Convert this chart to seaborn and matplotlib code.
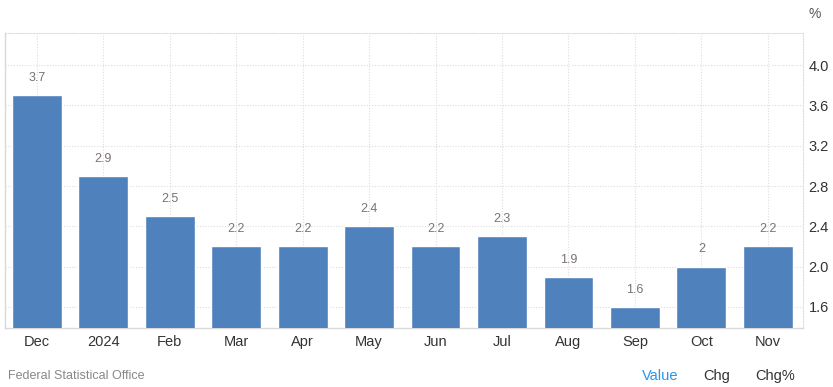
import pandas as pd
import matplotlib
matplotlib.use("Agg")
import matplotlib.pyplot as plt
import seaborn as sns

# Données
months = ["Dec", "2024", "Feb", "Mar", "Apr", "May", "Jun", "Jul", "Aug", "Sep", "Oct", "Nov"]
values = [3.7, 2.9, 2.5, 2.2, 2.2, 2.4, 2.2, 2.3, 1.9, 1.6, 2.0, 2.2]
labels = ["3.7", "2.9", "2.5", "2.2", "2.2", "2.4", "2.2", "2.3", "1.9", "1.6", "2", "2.2"]
yticks = [1.6, 2.0, 2.4, 2.8, 3.2, 3.6, 4.0]

df = pd.DataFrame({"month": months, "value": values})

sns.set_theme(style="white")
plt.rcParams["font.family"] = ["Liberation Sans", "DejaVu Sans"]

fig = plt.figure(figsize=(8.33, 3.87), dpi=100)
ax = fig.add_axes([5 / 833, 59 / 387, 798 / 833, 295 / 387])

sns.barplot(data=df, x="month", y="value", color="#4f81bd", saturation=1,
            width=0.75, ax=ax, zorder=3)

# Etiquettes de valeur au-dessus des barres
for i, (v, t) in enumerate(zip(values, labels)):
    ax.annotate(t, (i, v), xytext=(0, 8), textcoords="offset points",
                ha="center", va="bottom", fontsize=9, color="#7a7370")

ax.set_ylim(1.39, 4.32)
ax.set_xlim(-0.48, 11.53)
ax.set_yticks(yticks)
ax.set_yticklabels([f"{t:.1f}" for t in yticks])
ax.yaxis.tick_right()
ax.set_xlabel("")
ax.set_ylabel("")

ax.grid(True, color="#dddddd", linestyle=(0, (1, 1.5)), linewidth=0.8, zorder=0)
ax.tick_params(axis="both", length=0, labelsize=10.5, colors="#333333")
ax.tick_params(axis="x", pad=5)
ax.tick_params(axis="y", pad=4)

for side in ["top", "right"]:
    ax.spines[side].set_color("#dddddd")
    ax.spines[side].set_linestyle((0, (1, 1.5)))
    ax.spines[side].set_linewidth(0.8)
for side in ["left", "bottom"]:
    ax.spines[side].set_color("#d9d9d9")
    ax.spines[side].set_linewidth(1)

fig.text(815 / 833, 1 - 14 / 387, "%", ha="center", va="center", fontsize=10, color="#555555")
fig.text(8 / 833, 1 - 376 / 387, "Federal Statistical Office", ha="left", va="center",
         fontsize=9, color="#888888")
fig.text(660 / 833, 1 - 376 / 387, "Value", ha="center", va="center", fontsize=10.5, color="#2b95e6")
fig.text(717 / 833, 1 - 376 / 387, "Chg", ha="center", va="center", fontsize=10.5, color="#333333")
fig.text(775 / 833, 1 - 376 / 387, "Chg%", ha="center", va="center", fontsize=10.5, color="#333333")

fig.savefig("out.png", dpi=100)
